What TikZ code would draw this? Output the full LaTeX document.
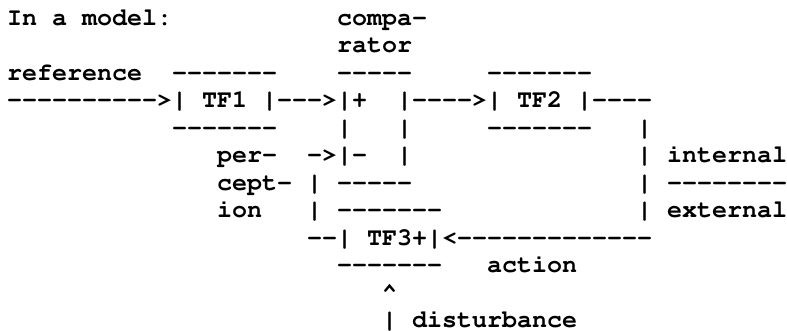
\documentclass[tikz,border=0pt]{standalone}
\usepackage[T1]{fontenc}
\usepackage{tikz}

% Monospaced bold Courier (pcr), 25pt: one column is 15pt wide, one row 27.5pt high
\tikzset{
  ascii/.style={anchor=base west, inner sep=0pt, outer sep=0pt,
    font=\fontfamily{pcr}\fontseries{b}\fontsize{25pt}{27.5pt}\selectfont}
}
% a run of hyphens, kept apart so no ligature forms
\newcommand\dashes[1]{\foreach\k in {1,...,#1}{-}}
% \asc{name}{column}{row}{text}
\newcommand\asc[4]{\node[ascii] (#1) at ({7pt+#2*15pt},{-25pt-(#3-1)*27.5pt}) {#4};}

\begin{document}
\begin{tikzpicture}
\useasboundingbox (0,0) rectangle (787pt,-330pt);

% row 1-2: headings
\asc{model}{0}{1}{In a model:}
\asc{compa}{22}{1}{compa\dashes{1}}
\asc{rator}{22}{2}{rator}

% row 3: tops of the boxes
\asc{reference}{0}{3}{reference}
\asc{tfonetop}{11}{3}{\dashes{7}}
\asc{cmptop}{22}{3}{\dashes{5}}
\asc{tftwotop}{32}{3}{\dashes{7}}

% row 4: forward path
\asc{refin}{0}{4}{\dashes{10}>}
\asc{tfone}{11}{4}{| TF1 |}
\asc{onetocmp}{18}{4}{\dashes{3}>}
\asc{cmpplus}{22}{4}{|+}
\asc{cmptotwo}{26}{4}{|\dashes{4}>}
\asc{tftwo}{32}{4}{| TF2 |}
\asc{twoout}{39}{4}{\dashes{4}}

% row 5
\asc{tfonebot}{11}{5}{\dashes{7}}
\asc{cmpleftA}{22}{5}{|}
\asc{cmprightA}{26}{5}{|}
\asc{tftwobot}{32}{5}{\dashes{7}}
\asc{downA}{42}{5}{|}

% row 6
\asc{per}{14}{6}{per\dashes{1}}
\asc{cmpminus}{20}{6}{\dashes{1}>|\dashes{1}}
\asc{cmprightB}{26}{6}{|}
\asc{downB}{42}{6}{|}
\asc{internal}{44}{6}{internal}

% row 7
\asc{cept}{14}{7}{cept\dashes{1}}
\asc{feedA}{20}{7}{|}
\asc{cmpbot}{22}{7}{\dashes{5}}
\asc{downC}{42}{7}{|}
\asc{divider}{44}{7}{\dashes{8}}

% row 8
\asc{ion}{14}{8}{ion}
\asc{feedB}{20}{8}{|}
\asc{tfthreetop}{22}{8}{\dashes{7}}
\asc{downD}{42}{8}{|}
\asc{external}{44}{8}{external}

% row 9: environment path
\asc{tfthree}{20}{9}{\dashes{2}| TF3+|<\dashes{13}}

% row 10
\asc{tfthreebot}{22}{10}{\dashes{7}}
\asc{action}{32}{10}{action}

% rows 11-12: disturbance input
\asc{caret}{25}{11}{\textasciicircum}
\asc{disturbance}{25}{12}{| disturbance}
\end{tikzpicture}
\end{document}
